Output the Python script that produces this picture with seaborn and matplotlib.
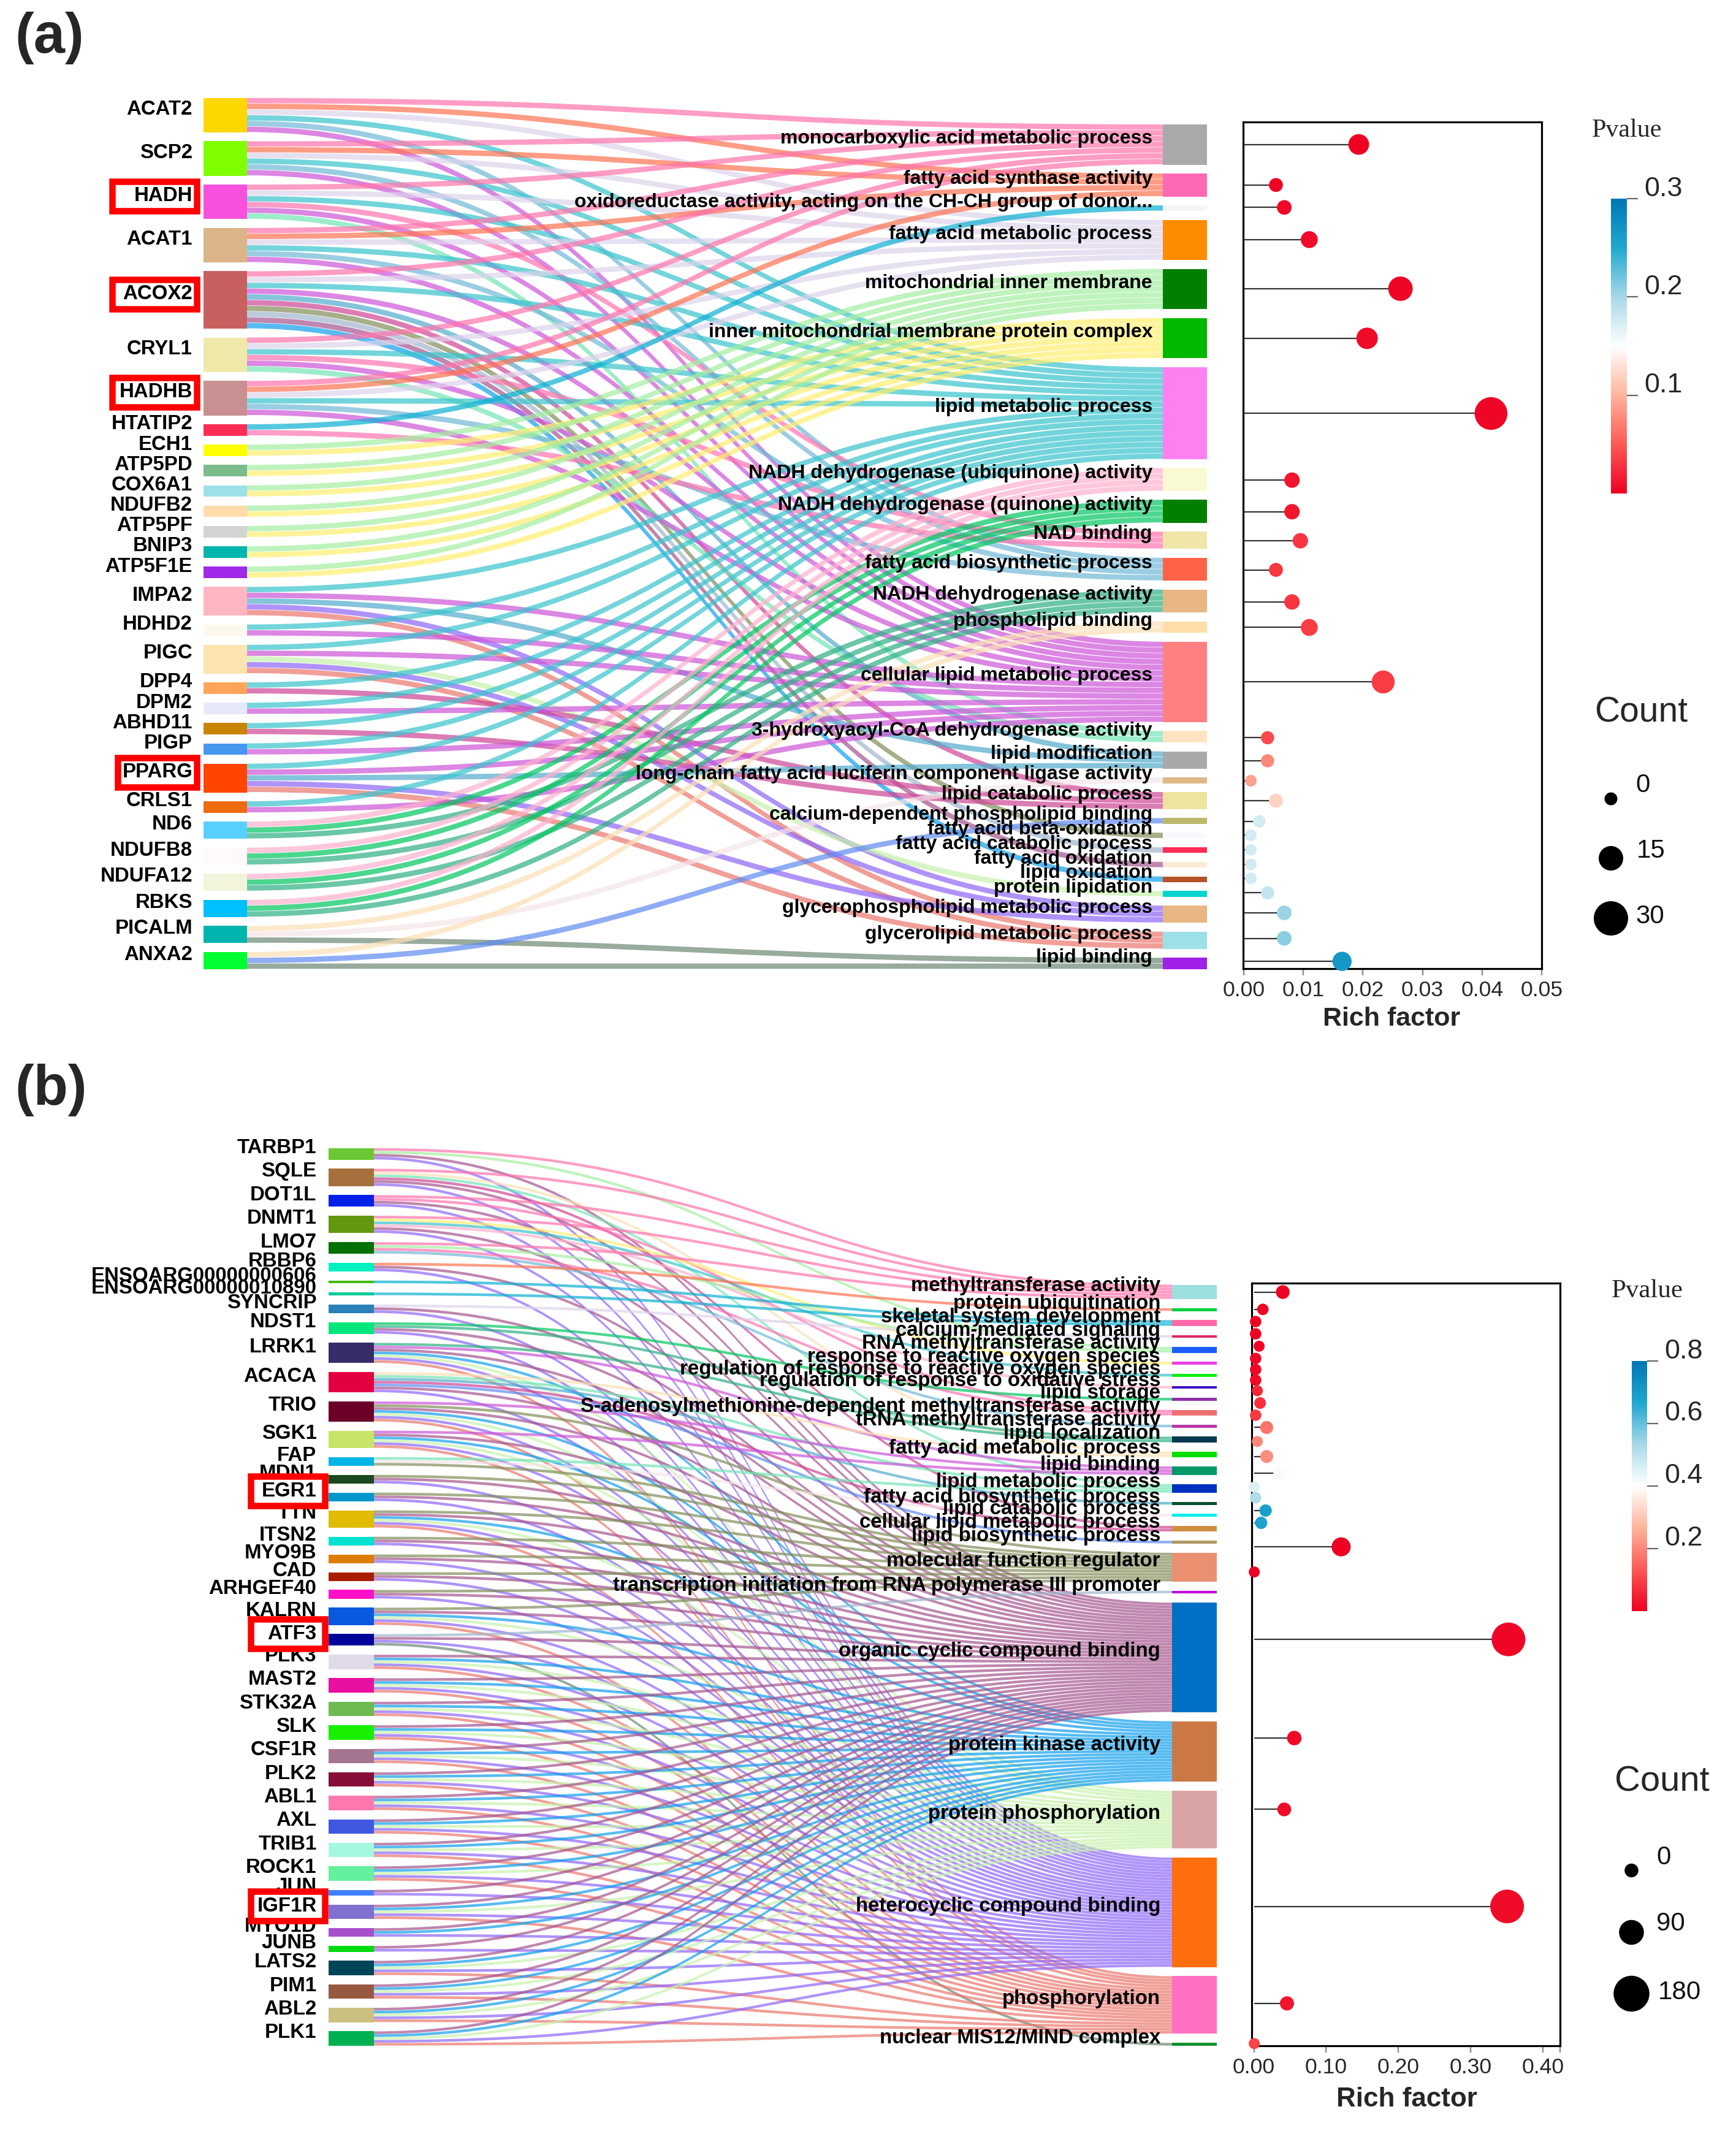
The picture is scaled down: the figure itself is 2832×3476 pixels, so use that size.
# sankey + lollipop figure, two panels
import numpy as np
import pandas as pd
import seaborn as sns
import matplotlib
matplotlib.use("Agg")
import matplotlib.pyplot as plt
from matplotlib.path import Path
from matplotlib.patches import PathPatch, Rectangle
from matplotlib.colors import LinearSegmentedColormap, Normalize, to_rgb
from matplotlib.cm import ScalarMappable

# === panel a data ===
genes_a = ["ACAT2", "SCP2", "HADH", "ACAT1", "ACOX2", "CRYL1", "HADHB", "HTATIP2", "ECH1", "ATP5PD",
           "COX6A1", "NDUFB2", "ATP5PF", "BNIP3", "ATP5F1E", "IMPA2", "HDHD2", "PIGC", "DPP4", "DPM2",
           "ABHD11", "PIGP", "PPARG", "CRLS1", "ND6", "NDUFB8", "NDUFA12", "RBKS", "PICALM", "ANXA2"]
terms_a = ["monocarboxylic acid metabolic process", "fatty acid synthase activity",
           "oxidoreductase activity, acting on the CH-CH group of donor...", "fatty acid metabolic process",
           "mitochondrial inner membrane", "inner mitochondrial membrane protein complex",
           "lipid metabolic process", "NADH dehydrogenase (ubiquinone) activity",
           "NADH dehydrogenase (quinone) activity", "NAD binding", "fatty acid biosynthetic process",
           "NADH dehydrogenase activity", "phospholipid binding", "cellular lipid metabolic process",
           "3-hydroxyacyl-CoA dehydrogenase activity", "lipid modification",
           "long-chain fatty acid luciferin component ligase activity", "lipid catabolic process",
           "calcium-dependent phospholipid binding", "fatty acid beta-oxidation", "fatty acid catabolic process",
           "fatty acid oxidation", "lipid oxidation", "protein lipidation", "glycerophospholipid metabolic process",
           "glycerolipid metabolic process", "lipid binding"]
# for each gene, the indices of its terms
links_a = [[0, 1, 3, 6, 10, 13], [0, 1, 3, 6, 10, 13], [0, 3, 6, 9, 13, 14], [0, 1, 3, 6, 10, 13],
           [0, 3, 6, 13, 15, 17, 19, 20, 21, 22], [0, 3, 6, 9, 13, 14], [0, 1, 3, 6, 10, 13], [2, 9],
           [4, 5], [4, 5], [4, 5], [4, 5], [4, 5], [4, 5], [4, 5],
           [6, 13, 15, 24, 25], [6, 13], [6, 13, 23, 24, 25], [6, 17], [6, 13], [6, 17], [6, 13],
           [6, 13, 15, 24, 25], [6, 13], [7, 8, 11], [7, 8, 11], [7, 8, 11], [7, 8, 11],
           [12, 16, 26], [12, 18, 26]]
rich_a = [0.0193, 0.0054, 0.0068, 0.011, 0.0263, 0.0207, 0.0415, 0.0081, 0.0081, 0.0095, 0.0054, 0.0081, 0.011,
          0.0234, 0.004, 0.004, 0.0012, 0.0054, 0.0026, 0.0012, 0.0012, 0.0012, 0.0012, 0.004, 0.0068, 0.0068, 0.0165]
pval_a = [0.002, 0.003, 0.005, 0.006, 0.004, 0.006, 0.004, 0.012, 0.012, 0.03, 0.03, 0.03, 0.035, 0.035, 0.04,
          0.075, 0.09, 0.12, 0.175, 0.175, 0.175, 0.175, 0.175, 0.185, 0.205, 0.21, 0.265]
count_a = [12, 3, 4, 7, 17, 13, 28, 5, 5, 5, 3, 5, 7, 15, 2, 2, 0, 3, 1, 0, 0, 0, 0, 2, 4, 4, 10]
# dot position, percent of the way down the lollipop axis
depth_a = [2.65, 7.44, 10.09, 13.89, 19.69, 25.55, 34.43, 42.3, 46.03, 49.46, 52.9, 56.69, 59.7, 66.14, 72.73,
           75.45, 77.81, 80.17, 82.61, 84.25, 85.97, 87.69, 89.34, 91.05, 93.41, 96.42, 99.14]
gene_colors_a = ["#ffd700", "#7fff00", "#f850dc", "#dbb48a", "#c86060", "#f0e8a8", "#c89090", "#ff2d55", "#ffff00",
                 "#7abc8c", "#9de0e8", "#ffdcaa", "#d3d3d3", "#00b5ad", "#a028e8", "#ffb6c1", "#fdf8ee", "#ffe3b0",
                 "#ffa55a", "#e6e8fa", "#c88600", "#4697ee", "#ff4500", "#f06a10", "#5ad0ff", "#fff9f9", "#f3f4dc",
                 "#00bfff", "#00b5ad", "#00ff30"]
term_colors_a = ["#a9a9a9", "#ff69b4", "#f5f5f5", "#ff8c00", "#008000", "#00b800", "#ff80f0", "#fafad2", "#008000",
                 "#f0e6a8", "#ff6347", "#e9b784", "#ffdcaa", "#ff8080", "#ffe4c4", "#a9a9a9", "#deb887", "#eee4a0",
                 "#bdb76b", "#f8f8ff", "#ff2d55", "#faebd7", "#b5522a", "#00d5d0", "#e9b784", "#9de0e8", "#a020e8"]

# === panel b data ===
genes_b = ["TARBP1", "SQLE", "DOT1L", "DNMT1", "LMO7", "RBBP6", "ENSOARG00000000606", "ENSOARG00000010890", "SYNCRIP",
           "NDST1", "LRRK1", "ACACA", "TRIO", "SGK1", "FAP", "MDN1", "EGR1", "TTN", "ITSN2", "MYO9B", "CAD",
           "ARHGEF40", "KALRN", "ATF3", "PLK3", "MAST2", "STK32A", "SLK", "CSF1R", "PLK2", "ABL1", "AXL", "TRIB1",
           "ROCK1", "JUN", "IGF1R", "MYO1D", "JUNB", "LATS2", "PIM1", "ABL2", "PLK1"]
terms_b = ["methyltransferase activity", "protein ubiquitination", "skeletal system development",
           "calcium-mediated signaling", "RNA methyltransferase activity", "response to reactive oxygen species",
           "regulation of response to reactive oxygen species", "regulation of response to oxidative stress",
           "lipid storage", "S-adenosylmethionine-dependent methyltransferase activity",
           "tRNA methyltransferase activity", "lipid localization", "fatty acid metabolic process", "lipid binding",
           "lipid metabolic process", "fatty acid biosynthetic process", "lipid catabolic process",
           "cellular lipid metabolic process", "lipid biosynthetic process", "molecular function regulator",
           "transcription initiation from RNA polymerase III promoter", "organic cyclic compound binding",
           "protein kinase activity", "protein phosphorylation", "heterocyclic compound binding", "phosphorylation",
           "nuclear MIS12/MIND complex"]
kinase_b = [21, 22, 23, 24, 25]
links_b = [[0, 4, 21, 24], [0, 12, 14, 17, 21, 24], [0, 9, 21, 24], [0, 5, 6, 7, 21, 24], [0, 4, 9, 10], [1, 21, 24],
           [2], [2], [3, 21, 24], [8, 11, 21, 24], [11, 13] + kinase_b, [12, 14, 15, 17, 18, 21, 24],
           [13, 19] + kinase_b, [13] + kinase_b, [14, 16, 19], [19, 21, 24], [19, 21, 24], [19] + kinase_b,
           [19, 21, 24], [19, 21, 24], [19, 21, 24], [19, 21, 24], [19] + kinase_b, [20, 21, 24, 26],
           kinase_b, kinase_b, kinase_b, kinase_b, kinase_b, kinase_b, kinase_b, kinase_b, kinase_b, kinase_b,
           [21, 24], kinase_b, [21, 22, 24], [21, 24], kinase_b, kinase_b, kinase_b, kinase_b]
rich_b = [0.04, 0.0124, 0.0024, 0.0024, 0.0072, 0.0024, 0.0024, 0.0024, 0.0048, 0.0086, 0.0024, 0.0177, 0.0048, 0.0177,
          0.0358, 0.0005, 0.0024, 0.0162, 0.01, 0.1208, 0.0005, 0.3525, 0.0559, 0.042, 0.3506, 0.0458, 0.0005]
pval_b = [0.004, 0.005, 0.005, 0.006, 0.012, 0.012, 0.012, 0.013, 0.06, 0.07, 0.09, 0.17, 0.2, 0.21, 0.39, 0.45,
          0.52, 0.69, 0.68, 0.004, 0.006, 0.012, 0.015, 0.018, 0.018, 0.03, 0.1]
count_b = [21, 3, 3, 3, 0, 3, 3, 3, 0, 5, 3, 15, 0, 15, 16, 0, 3, 10, 10, 62, 0, 176, 27, 21, 176, 24, 0]
depth_b = [1.17, 3.44, 5.04, 6.65, 8.27, 9.87, 11.33, 12.72, 14.11, 15.72, 17.32, 18.93, 20.76, 22.73, 24.93, 26.75,
           28.14, 29.82, 31.43, 34.58, 37.87, 46.71, 59.65, 69.01, 81.73, 94.44, 99.71]
gene_colors_b = ["#6cc832", "#a5703c", "#0020e8", "#64960e", "#007000", "#00f0c0", "#44bb00", "#00cc99", "#2b80b8",
                 "#00e67a", "#382c68", "#e40040", "#6a0028", "#c8e468", "#00b4e8", "#1c4820", "#0098cc", "#e0bc04",
                 "#00e0cc", "#dd7d00", "#a81c00", "#ff10c8", "#0858e0", "#000098", "#e0dae8", "#e810a0", "#6cba50",
                 "#18f000", "#a47490", "#860e38", "#ff78b0", "#4058e0", "#a4f8e0", "#64f09c", "#4080ff", "#8070d0",
                 "#a850cc", "#00dc10", "#004458", "#985840", "#ccc080", "#00b050"]
term_colors_b = ["#9de0e0", "#00d040", "#ff69a8", "#dc2860", "#1a5cff", "#e840e8", "#10ee10", "#4010c0", "#9030a8",
                 "#ee7070", "#b838a8", "#063850", "#00e000", "#049868", "#0030c0", "#085030", "#00eeee", "#cd8e40",
                 "#b09860", "#ea9070", "#c000d8", "#0070c4", "#cc7845", "#d8a4a4", "#ff6e0c", "#ff70c0", "#109030"]

# both panels use the same ribbon colour sequence (colour as seen on white)
ribbon_colors = ["#ff9ec4", "#ff9c85", "#55c8e0", "#e8e0f2", "#bff3bd", "#fff39a", "#74d6dc", "#ffc8dc", "#40d890",
                 "#ff9cc8", "#9bcde2", "#6cc8a8", "#fdeacc", "#dc88e4", "#9eeccb", "#85c4dc", "#f8ecee", "#dd7cb4",
                 "#8eaef5", "#a6b08a", "#bccbdc", "#c088b0", "#58bcf2", "#d8f6c4", "#b094fa", "#f0a098", "#98ac9e"]

pvalue_cmap = LinearSegmentedColormap.from_list(
    "pvalue", ["#ee0022", "#ff5a55", "#ffb59c", "#ffffff", "#a8d8e8", "#20a8d0", "#0077b5"])

# === figure setup ===
W, H = 2832, 3476
PT = 0.72  # one output pixel in points at dpi=100
RIBBON_ALPHA = 0.7
sns.set_style("white")
plt.rcParams["font.family"] = ["Liberation Sans", "DejaVu Sans"]
fig = plt.figure(figsize=(W / 100, H / 100), dpi=100, facecolor="white")
bg = fig.add_axes([0, 0, 1, 1])
bg.set_xlim(0, W)
bg.set_ylim(H, 0)
bg.axis("off")


def layout(sizes, unit, gap, bottom):
    total = sum(sizes) * unit + gap * (len(sizes) - 1)
    tops = []
    y = bottom - total
    for s in sizes:
        tops.append(y)
        y += s * unit + gap
    return tops


def ribbon(ax, x0, x1, y0, y1, h, color):
    # base colour so that the ribbon looks like `color` once blended on white
    rgb = (np.array(to_rgb(color)) - (1 - RIBBON_ALPHA)) / RIBBON_ALPHA
    xm = (x0 + x1) / 2
    verts = [(x0, y0), (xm, y0), (xm, y1), (x1, y1), (x1, y1 + h), (xm, y1 + h), (xm, y0 + h), (x0, y0 + h), (x0, y0)]
    codes = [Path.MOVETO, Path.CURVE4, Path.CURVE4, Path.CURVE4, Path.LINETO, Path.CURVE4, Path.CURVE4, Path.CURVE4,
             Path.CLOSEPOLY]
    ax.add_patch(PathPatch(Path(verts, codes), facecolor=np.clip(rgb, 0, 1), edgecolor="none",
                           alpha=RIBBON_ALPHA, zorder=1))


def draw_sankey(genes, terms, links, gene_colors, term_colors, gx, tx, unit, gap, bottom, label_x, term_x,
                term_fs, boxes, box_right):
    term_sizes = [sum(i in row for row in links) for i in range(len(terms))]
    gene_sizes = [len(row) for row in links]
    gene_tops = layout(gene_sizes, unit, gap, bottom)
    term_tops = layout(term_sizes, unit, gap, bottom)

    term_used = [0] * len(terms)
    for g, row in enumerate(links):
        for k, t in enumerate(sorted(row)):
            y0 = gene_tops[g] + k * unit
            y1 = term_tops[t] + term_used[t] * unit
            term_used[t] += 1
            ribbon(bg, gx[1], tx[0], y0, y1, unit * 0.93, ribbon_colors[t])

    bg.bar([(gx[0] + gx[1]) / 2] * len(genes), [s * unit for s in gene_sizes], bottom=gene_tops,
           width=gx[1] - gx[0], color=gene_colors, linewidth=0, zorder=2)
    bg.bar([(tx[0] + tx[1]) / 2] * len(terms), [s * unit for s in term_sizes], bottom=term_tops,
           width=tx[1] - tx[0], color=term_colors, linewidth=0, zorder=2)

    for i, name in enumerate(genes):
        yc = gene_tops[i] + gene_sizes[i] * unit / 2 - 9.5
        boxed = name in boxes
        bg.text(label_x, yc, name, ha="right", va="center", fontsize=33 * PT, fontweight="bold",
                color="black", zorder=8 if boxed else 6)
        if boxed:
            left = boxes[name]
            bg.add_patch(Rectangle((left + 5, yc - 24), box_right - left - 10, 48, facecolor="white",
                                   edgecolor="#ff0000", linewidth=10.5 * PT, zorder=7))
    for i, name in enumerate(terms):
        yc = term_tops[i] + term_sizes[i] * unit / 2 - 10
        bg.text(term_x, yc, name, ha="right", va="center", fontsize=term_fs * PT, fontweight="bold",
                color="black", zorder=6)


def px_axes(left, top, right, bottom):
    return fig.add_axes([left / W, 1 - bottom / H, (right - left) / W, (bottom - top) / H], zorder=3)


def draw_lollipop(rect, rich, pval, count, depth, xlim, xticks, fmt, pmax, d0, k, extra_tick=None):
    ax = px_axes(*rect)
    ax.patch.set_alpha(0)
    df = pd.DataFrame({"rich": rich, "pval": pval, "count": count, "depth": depth})
    sizes = {c: ((d0 + k * c) * PT) ** 2 for c in df["count"].unique()}
    ax.hlines(df["depth"], 0, df["rich"], color="#333333", linewidth=2.2 * PT, zorder=1)
    sns.scatterplot(data=df, x="rich", y="depth", hue="pval", size="count", sizes=sizes, palette=pvalue_cmap,
                    hue_norm=Normalize(0, pmax), linewidth=0, legend=False, clip_on=False, zorder=3, ax=ax)
    ax.set_xlim(*xlim)
    ax.set_ylim(100, 0)
    ax.set_yticks([])
    ax.set_ylabel("")
    ax.set_xlabel("")
    ax.set_xticks(xticks)
    ax.set_xticklabels([fmt % v for v in xticks], fontsize=35.5 * PT)
    if extra_tick is not None:
        ax.set_xticks([extra_tick], minor=True)
    ax.tick_params(axis="x", which="both", bottom=True, length=11 * PT, width=2.5 * PT, color="#8c90a0",
                   pad=8 * PT)
    for s in ax.spines.values():
        s.set_visible(True)
        s.set_color("black")
        s.set_linewidth(3.2 * PT)
    return ax


def draw_colorbar(rect, pmax, ticks, fmt="%.1f"):
    cax = px_axes(*rect)
    cb = fig.colorbar(ScalarMappable(Normalize(0, pmax), pvalue_cmap), cax=cax, ticks=ticks)
    cb.outline.set_visible(False)
    cax.set_yticklabels([])
    cax.tick_params(axis="y", length=18 * PT, width=2.2 * PT, color="#666666")
    # labels sit a little above their ticks in the reference
    for t in ticks:
        cax.annotate(fmt % t, xy=(1, t), xycoords=("axes fraction", "data"), xytext=(28 * PT, 16 * PT),
                     textcoords="offset points", fontsize=45 * PT, ha="left", va="center", annotation_clip=False)


def draw_count_legend(x, ys, diam, labels, label_x, label_ys):
    leg = pd.DataFrame({"x": [x] * len(ys), "y": ys, "d": diam})
    sizes = {d: (d * PT) ** 2 for d in diam}
    sns.scatterplot(data=leg, x="x", y="y", size="d", sizes=sizes, color="black", linewidth=0, legend=False,
                    zorder=5, ax=bg)
    for lab, lx, ly in zip(labels, label_x, label_ys):
        bg.text(lx, ly, lab, fontsize=42 * PT, ha="left", va="center", color="#111111")


# === panel a ===
bg.text(24, 62, "(a)", fontsize=92 * PT, fontweight="bold", ha="left", va="center")
draw_sankey(genes_a, terms_a, links_a, gene_colors_a, term_colors_a, (332, 403), (1897, 1969), 9.38, 14.4, 1581,
            314, 1880, 32, {"HADH": 178, "ACOX2": 178, "HADHB": 178, "PPARG": 187}, 326)
draw_lollipop((2027.5, 199, 2515, 1580), rich_a, pval_a, count_a, depth_a, (-0.00015, 0.05),
              [0, 0.01, 0.02, 0.03, 0.04, 0.05], "%.2f", 0.3, 19, 1.23)
bg.text(2270, 1662, "Rich factor", fontsize=43 * PT, fontweight="bold", ha="center", va="center")
bg.text(2597, 213, "Pvalue", fontsize=42 * PT, family="Liberation Serif", ha="left", va="center")
draw_colorbar((2628, 324, 2654, 805), 0.3, [0.1, 0.2, 0.3])
bg.text(2601, 1162, "Count", fontsize=57 * PT, ha="left", va="center")
draw_count_legend(2628, [1303, 1400, 1498], [21, 40, 56], ["0", "15", "30"], [2668, 2670, 2668], [1281, 1388, 1495])

# === panel b ===
bg.text(24, 1778, "(b)", fontsize=92 * PT, fontweight="bold", ha="left", va="center")
draw_sankey(genes_b, terms_b, links_b, gene_colors_b, term_colors_b, (536, 610), (1912, 1985), 4.7, 14.85, 3337,
            516.5, 1893, 33, {"EGR1": 404, "ATF3": 404, "IGF1R": 404}, 534.5)
draw_lollipop((2042, 2093, 2544.5, 3337), rich_b, pval_b, count_b, depth_b, (-0.003, 0.4235),
              [0, 0.1, 0.2, 0.3, 0.4], "%.2f", 0.8, 18, 0.21, extra_tick=0.4235)
bg.text(2295, 3424, "Rich factor", fontsize=44 * PT, fontweight="bold", ha="center", va="center")
bg.text(2629, 2106, "Pvalue", fontsize=43 * PT, family="Liberation Serif", ha="left", va="center")
draw_colorbar((2661.5, 2220, 2687, 2627.5), 0.8, [0.2, 0.4, 0.6, 0.8])
bg.text(2634, 2907, "Count", fontsize=58 * PT, ha="left", va="center")
draw_count_legend(2661.5, [3051, 3152, 3252], [22.5, 40.5, 58.5], ["0", "90", "180"], [2702, 2702, 2705],
                  [3030, 3138, 3250])

bg.set_xlim(0, W)
bg.set_ylim(H, 0)
bg.axis("off")
fig.savefig("out.png", dpi=100, facecolor="white")
